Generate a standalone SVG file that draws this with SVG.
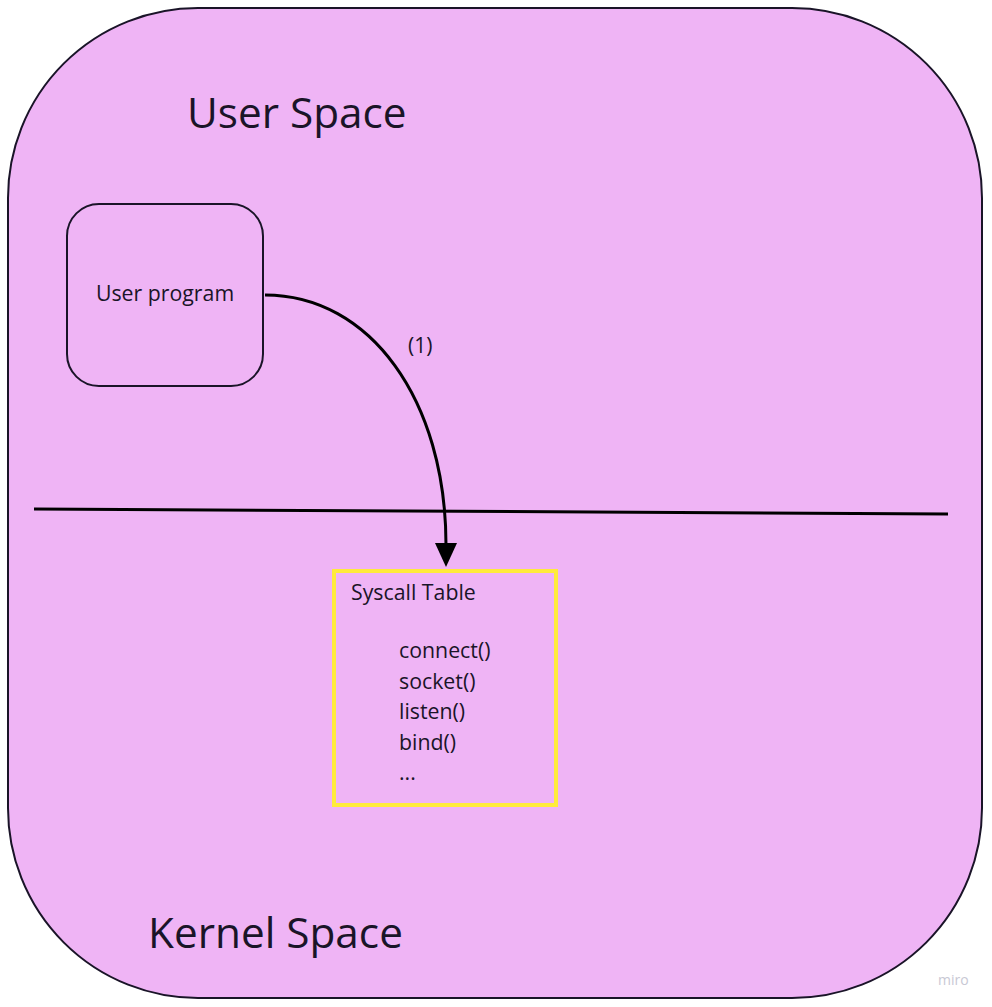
<svg xmlns="http://www.w3.org/2000/svg" width="992" height="1007" viewBox="0 0 992 1007">
<defs>
<style>
.t{font-family:"Open Sans","Noto Sans","Liberation Sans",sans-serif;fill:#1a1428}
.big{font-size:42.3px}
.mid{font-size:21.3px}
.sm{font-size:21px}
</style>
</defs>
<rect width="992" height="1007" fill="#ffffff"/>
<g id="space">
<rect x="8" y="8" width="974" height="990" rx="190" ry="190" fill="#efb4f5" stroke="#1a1428" stroke-width="2"/>
<text class="t big" x="187" y="128">User Space</text>
<text class="t big" x="148" y="948">Kernel Space</text>
</g>
<g id="divider">
<line x1="34" y1="509" x2="948" y2="514" stroke="#000" stroke-width="3"/>
</g>
<g id="user-program">
<rect x="67" y="204" width="196" height="182" rx="32" ry="32" fill="#efb4f5" stroke="#1a1428" stroke-width="2"/>
<text class="t mid" x="165" y="301" text-anchor="middle">User program</text>
</g>
<g id="syscall-table">
<rect x="334" y="571" width="222" height="234" fill="#efb4f5" stroke="#ffeb3b" stroke-width="4"/>
<text class="t mid" x="351" y="600">Syscall Table</text>
<text class="t mid" x="399" y="658">connect()</text>
<text class="t mid" x="399" y="689">socket()</text>
<text class="t mid" x="399" y="719">listen()</text>
<text class="t mid" x="399" y="750">bind()</text>
<text class="t mid" x="399" y="780">...</text>
</g>
<g id="connectors">
<path d="M265,295 C370,295 446,400 446,545" fill="none" stroke="#000" stroke-width="3"/>
<polygon points="435,543 457,543 446,567" fill="#000"/>
<text class="t sm" x="408" y="353">(1)</text>
</g>
<text x="938" y="985" font-family="Open Sans, sans-serif" font-size="14" fill="#c8c8d4">miro</text>
</svg>
